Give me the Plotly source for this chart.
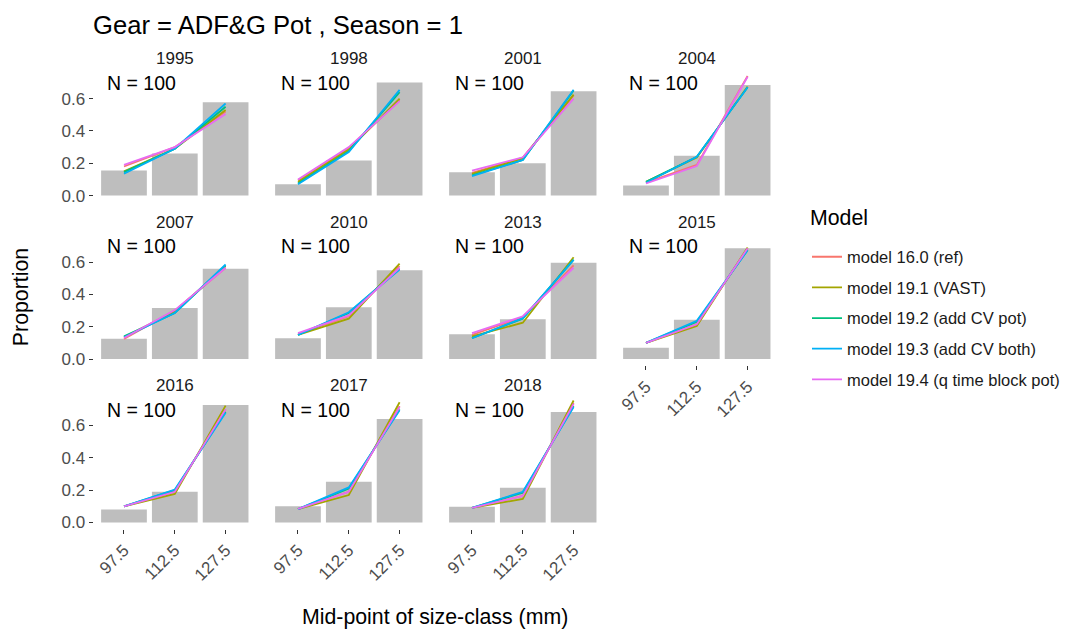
import plotly.graph_objects as go

years = ["1995", "1998", "2001", "2004", "2007", "2010", "2013", "2015", "2016", "2017", "2018"]
size_classes = ["97.5", "112.5", "127.5"]
sample_n = ["100"] * 11

observed = [
    [0.156, 0.260, 0.577], [0.070, 0.217, 0.700], [0.144, 0.200, 0.646], [0.0625, 0.246, 0.685],
    [0.125, 0.316, 0.558], [0.129, 0.320, 0.550], [0.154, 0.247, 0.596], [0.070, 0.243, 0.685],
    [0.080, 0.190, 0.727], [0.100, 0.252, 0.640], [0.098, 0.215, 0.683],
]

model_names = ["model 16.0 (ref)", "model 19.1 (VAST)", "model 19.2 (add CV pot)",
               "model 19.3 (add CV both)", "model 19.4 (q time block pot)"]
model_colors = ["#F8766D", "#A3A500", "#00BF7D", "#00B0F6", "#E76BF3"]

m160 = [[0.180, 0.300, 0.520], [0.095, 0.295, 0.590], [0.140, 0.235, 0.620], [0.080, 0.190, 0.740],
        [0.125, 0.300, 0.565], [0.155, 0.265, 0.575], [0.150, 0.260, 0.580], [0.100, 0.215, 0.685],
        [0.100, 0.190, 0.700], [0.085, 0.190, 0.720], [0.090, 0.165, 0.740]]
m191 = [[0.150, 0.290, 0.530], [0.085, 0.285, 0.600], [0.135, 0.230, 0.625], [0.085, 0.235, 0.675],
        [0.135, 0.295, 0.575], [0.150, 0.250, 0.590], [0.140, 0.225, 0.630], [0.100, 0.205, 0.690],
        [0.100, 0.177, 0.723], [0.083, 0.170, 0.744], [0.090, 0.146, 0.755]]
m192 = [[0.145, 0.290, 0.550], [0.075, 0.275, 0.640], [0.125, 0.220, 0.650], [0.085, 0.240, 0.670],
        [0.140, 0.285, 0.580], [0.150, 0.285, 0.560], [0.130, 0.250, 0.615], [0.100, 0.230, 0.675],
        [0.100, 0.200, 0.685], [0.083, 0.210, 0.700], [0.090, 0.185, 0.720]]
m193 = [[0.135, 0.290, 0.570], [0.070, 0.270, 0.654], [0.120, 0.220, 0.655], [0.080, 0.240, 0.670],
        [0.135, 0.285, 0.585], [0.150, 0.290, 0.554], [0.129, 0.253, 0.614], [0.100, 0.237, 0.673],
        [0.100, 0.204, 0.679], [0.083, 0.217, 0.694], [0.090, 0.190, 0.715]]
m194 = [[0.190, 0.300, 0.505], [0.100, 0.300, 0.585], [0.154, 0.237, 0.600], [0.075, 0.183, 0.735],
        [0.130, 0.303, 0.565], [0.160, 0.270, 0.565], [0.160, 0.265, 0.565], [0.100, 0.215, 0.685],
        [0.100, 0.190, 0.700], [0.085, 0.190, 0.715], [0.090, 0.165, 0.735]]
model_values = [m160, m191, m192, m193, m194]

# The page body has an 8px default margin, so the figure is placed at (8, 8)
# in the 1072x637 window; positions below are window pixels.
OFF = 8
W, H = 1072 - OFF, 637 - OFF
FONT = "Liberation Sans, Arial, sans-serif"
BASE = 21.3          # base text size (px)
SMALL = 17           # strip / tick text
LEG = 16.5           # legend text
TITLE = 25.6


def px(x):
    return (x - OFF) / W


def py(y):
    return 1 - (y - OFF) / H


col_left0, col_step, panel_w = 93.5, 174.0, 162.6
row_top0, row_step, panel_h = 67.0, 164.5, 136.0
y_range = [-0.038, 0.798]

fig = go.Figure()
layout = dict(
    width=W, height=H, margin=dict(l=0, r=0, t=0, b=0),
    paper_bgcolor="white", plot_bgcolor="white",
    font=dict(family=FONT, color="#000000"),
    showlegend=True,
    legend=dict(
        x=px(807), y=py(241), xanchor="left", yanchor="top",
        font=dict(size=LEG, family=FONT, color="#1A1A1A"),
        tracegroupgap=6.2, bgcolor="rgba(0,0,0,0)",
    ),
)
annotations = []

for i, yr in enumerate(years):
    r, c = divmod(i, 4)
    k = i + 1
    xs = "" if k == 1 else str(k)
    left = col_left0 + c * col_step
    top = row_top0 + r * row_step
    xdom = [px(left), px(left + panel_w)]
    ydom = [py(top + panel_h), py(top)]
    show_x = (r == 2) or (r == 1 and c == 3)
    show_y = (c == 0)
    layout["xaxis" + xs] = dict(
        domain=xdom, anchor="y" + xs, type="category", range=[-0.6, 2.6],
        showgrid=False, zeroline=False, showline=False,
        showticklabels=show_x, ticks="outside" if show_x else "", ticklen=4,
        tickcolor="#333333", tickangle=-45,
        tickfont=dict(size=SMALL, family=FONT, color="#4D4D4D"),
        categoryorder="array", categoryarray=size_classes,
    )
    layout["yaxis" + xs] = dict(
        domain=ydom, anchor="x" + xs, range=y_range,
        showgrid=False, zeroline=False, showline=False,
        showticklabels=show_y, ticks="outside" if show_y else "", ticklen=4,
        tickcolor="#333333", tickvals=[0, 0.2, 0.4, 0.6], ticktext=["0.0", "0.2", "0.4", "0.6"],
        tickfont=dict(size=SMALL, family=FONT, color="#4D4D4D"),
    )
    fig.add_trace(go.Bar(
        x=size_classes, y=observed[i], xaxis="x" + xs, yaxis="y" + xs,
        marker=dict(color="#BEBEBE", line=dict(width=0)), width=0.9,
        showlegend=False, hoverinfo="skip",
    ))
    for m, (name, color) in enumerate(zip(model_names, model_colors)):
        fig.add_trace(go.Scatter(
            x=size_classes, y=model_values[m][i], xaxis="x" + xs, yaxis="y" + xs,
            mode="lines", line=dict(color=color, width=1.8), name=name,
            legendgroup=name, showlegend=(i == 0),
        ))
    annotations.append(dict(
        text=yr, x=px(left + panel_w / 2), y=py(top - 7.7),
        xref="paper", yref="paper", xanchor="center", yanchor="middle", showarrow=False,
        font=dict(size=SMALL, family=FONT, color="#1A1A1A"),
    ))
    annotations.append(dict(
        text="N = " + sample_n[i], x=px(left + 11.8), y=py(top + 16.3),
        xref="paper", yref="paper", xanchor="left", yanchor="middle", showarrow=False,
        font=dict(size=19.5, family=FONT, color="#000000"),
    ))

annotations.append(dict(
    text="Model", x=px(808), y=py(219), xref="paper", yref="paper",
    xanchor="left", yanchor="middle", showarrow=False, font=dict(size=BASE, family=FONT, color="#000000"),
))
annotations.append(dict(
    text="Gear = ADF&G Pot , Season = 1", x=px(91), y=py(25), xref="paper", yref="paper",
    xanchor="left", yanchor="middle", showarrow=False, font=dict(size=TITLE, family=FONT, color="#000000"),
))
annotations.append(dict(
    text="Proportion", x=px(20.5), y=py(299.5), xref="paper", yref="paper", textangle=-90,
    xanchor="center", yanchor="middle", showarrow=False, font=dict(size=BASE, family=FONT, color="#000000"),
))
annotations.append(dict(
    text="Mid-point of size-class (mm)", x=px(435), y=py(621), xref="paper", yref="paper",
    xanchor="center", yanchor="middle", showarrow=False, font=dict(size=BASE, family=FONT, color="#000000"),
))
layout["annotations"] = annotations
fig.update_layout(**layout)
fig.write_html("out.html")
